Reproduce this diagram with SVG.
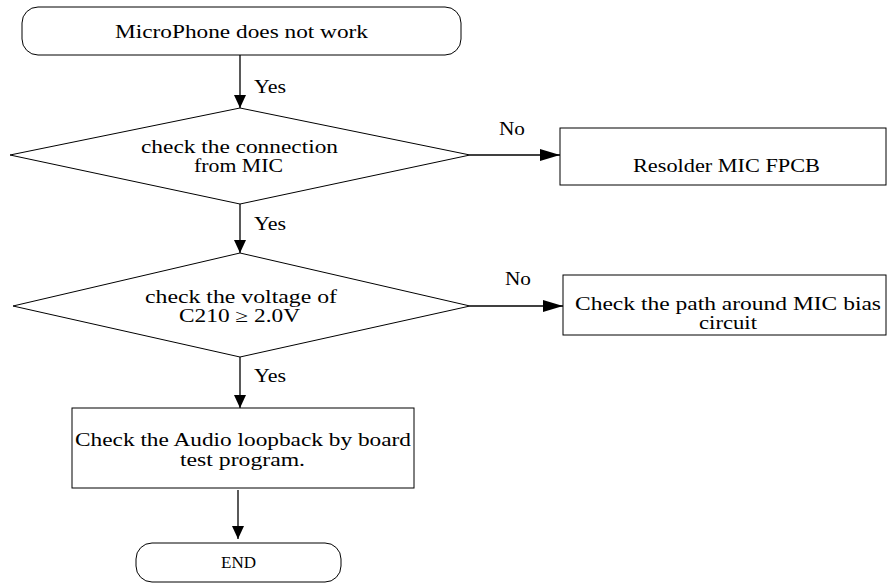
<svg xmlns="http://www.w3.org/2000/svg" width="887" height="583" viewBox="0 0 887 583">
<style>
  .shape { fill: #fff; stroke: #000; stroke-width: 1; }
  .conn { stroke: #000; stroke-width: 1.3; fill: none; }
  text { font-family: "Liberation Serif", "DejaVu Serif", serif; font-size: 18px; fill: #000; }
</style>
<defs>
  <marker id="arrv" viewBox="0 0 13 12" refX="13" refY="6" markerWidth="13" markerHeight="12" orient="auto" markerUnits="userSpaceOnUse">
    <path d="M0,0 L13,6 L0,12 z" fill="#000"/>
  </marker>
  <marker id="arrh" viewBox="0 0 20 12" refX="20" refY="6" markerWidth="20" markerHeight="12" orient="auto" markerUnits="userSpaceOnUse">
    <path d="M0,0 L20,6 L0,12 z" fill="#000"/>
  </marker>
</defs>
<rect width="887" height="583" fill="#fff"/>
<g id="connectors">
  <line class="conn" x1="240" y1="55" x2="240" y2="108" marker-end="url(#arrv)"/>
  <line class="conn" x1="240" y1="204" x2="240" y2="253" marker-end="url(#arrv)"/>
  <line class="conn" x1="240" y1="357" x2="240" y2="408" marker-end="url(#arrv)"/>
  <line class="conn" x1="238" y1="490" x2="238" y2="539" marker-end="url(#arrv)"/>
  <line class="conn" x1="470" y1="155" x2="560" y2="155" marker-end="url(#arrh)"/>
  <line class="conn" x1="470" y1="306" x2="563" y2="306" marker-end="url(#arrh)"/>
  <text x="254" y="93" textLength="32" lengthAdjust="spacingAndGlyphs">Yes</text>
  <text x="254" y="230" textLength="32" lengthAdjust="spacingAndGlyphs">Yes</text>
  <text x="254" y="382" textLength="32" lengthAdjust="spacingAndGlyphs">Yes</text>
  <text x="499" y="135" textLength="26" lengthAdjust="spacingAndGlyphs">No</text>
  <text x="505" y="285" textLength="26" lengthAdjust="spacingAndGlyphs">No</text>
</g>
<g id="start">
  <rect class="shape" x="22" y="7" width="439" height="48" rx="16" ry="16"/>
  <text x="115" y="38" textLength="253" lengthAdjust="spacingAndGlyphs">MicroPhone does not work</text>
</g>
<g id="check-connection">
  <polygon class="shape" points="240,108 470,155 240,204 10,155"/>
  <text x="141" y="153" textLength="197" lengthAdjust="spacingAndGlyphs">check the connection</text>
  <text x="194" y="172" textLength="89" lengthAdjust="spacingAndGlyphs">from MIC</text>
</g>
<g id="resolder">
  <rect class="shape" x="560" y="128" width="326" height="57"/>
  <text x="633" y="172" textLength="187" lengthAdjust="spacingAndGlyphs">Resolder MIC FPCB</text>
</g>
<g id="check-voltage">
  <polygon class="shape" points="240,253 470,306 240,357 13,306"/>
  <text x="145" y="303" textLength="192" lengthAdjust="spacingAndGlyphs">check the voltage of</text>
  <text x="179" y="322" textLength="121" lengthAdjust="spacingAndGlyphs">C210 ≥ 2.0V</text>
</g>
<g id="check-bias">
  <rect class="shape" x="563" y="275" width="323" height="60"/>
  <text x="575" y="310" textLength="306" lengthAdjust="spacingAndGlyphs">Check the path around MIC bias</text>
  <text x="699" y="329" textLength="58" lengthAdjust="spacingAndGlyphs">circuit</text>
</g>
<g id="check-audio">
  <rect class="shape" x="72" y="408" width="342" height="80"/>
  <text x="75" y="446" textLength="336" lengthAdjust="spacingAndGlyphs">Check the Audio loopback by board</text>
  <text x="180" y="466" textLength="125" lengthAdjust="spacingAndGlyphs">test program.</text>
</g>
<g id="end">
  <rect class="shape" x="136" y="543" width="205" height="39" rx="16" ry="16"/>
  <text x="221" y="568" textLength="35" lengthAdjust="spacingAndGlyphs" style="font-size:16px">END</text>
</g>
</svg>
